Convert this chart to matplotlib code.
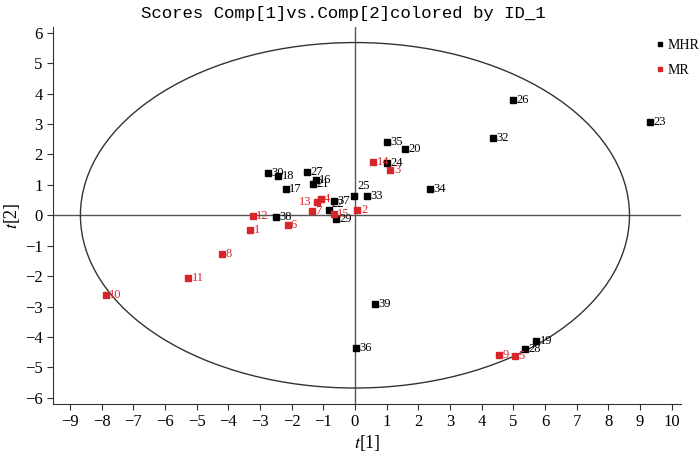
import matplotlib
matplotlib.use('Agg')
import matplotlib.pyplot as plt
from matplotlib.patches import Ellipse

# scores t[1], t[2] for each sample
mr_ids = [1, 2, 3, 4, 5, 6, 7, 8, 9, 10, 11, 12, 13, 14, 15]
mr_t1 = [-3.31, 0.08, 1.12, -1.08, 5.06, -2.13, -1.36, -4.20, 4.56, -7.87, -5.27, -3.23, -1.21, 0.58, -0.67]
mr_t2 = [-0.48, 0.18, 1.48, 0.53, -4.63, -0.32, 0.13, -1.27, -4.60, -2.63, -2.05, -0.01, 0.43, 1.74, 0.04]

mhr_ids = [16, 17, 18, 19, 20, 21, 22, 23, 24, 25, 26, 27, 28, 29, 30, 32, 33, 34, 35, 36, 37, 38, 39]
mhr_t1 = [-1.24, -2.19, -2.42, 5.73, 1.57, -1.34, -0.82, 9.32, 1.00, -0.02, 4.98, -1.51, 5.38, -0.60,
          -2.74, 4.37, 0.37, 2.37, 1.01, 0.02, -0.67, -2.50, 0.62]
mhr_t2 = [1.17, 0.86, 1.28, -4.12, 2.18, 1.03, 0.18, 3.08, 1.72, 0.64, 3.79, 1.41, -4.39, -0.13,
          1.39, 2.54, 0.64, 0.87, 2.42, -4.37, 0.46, -0.06, -2.91]

# Hotelling T2 ellipse half axes
ell_a = 8.67
ell_b = 5.68

red = '#d7262b'

plt.rcParams['font.family'] = ['Liberation Serif', 'DejaVu Serif']
plt.rcParams['mathtext.fontset'] = 'stix'

fig = plt.figure(figsize=(7, 4.61), dpi=100)
ax = fig.add_axes([0.076, 0.124, 0.897, 0.818])

ax.axhline(0, color='#555555', lw=1, zorder=1)
ax.axvline(0, color='#555555', lw=1, zorder=1)
ax.add_patch(Ellipse((0, 0), 2 * ell_a, 2 * ell_b, fill=False, edgecolor='#333333', lw=1, zorder=1))

ax.plot(mhr_t1, mhr_t2, 's', color='black', ms=4, ls='none', label='MHR', zorder=3)
ax.plot(mr_t1, mr_t2, 's', color=red, ms=4, ls='none', label='MR', zorder=3)

# label offsets in points, default is just right of the marker
special = {25: (2, 7), 13: (-13, 0), 22: (2, 4)}
for ids, xs, ys, c in [(mhr_ids, mhr_t1, mhr_t2, 'black'), (mr_ids, mr_t1, mr_t2, red)]:
    for i, x, y in zip(ids, xs, ys):
        dx, dy = special.get(i, (2.5, 0))
        ax.annotate(str(i), (x, y), xytext=(dx, dy), textcoords='offset points',
                    fontsize=9, color=c, va='center', ha='left', zorder=4)

ax.set_xlim(-9.53, 10.3)
ax.set_ylim(-6.2, 6.2)
ax.set_xticks(range(-9, 11))
ax.set_yticks(range(-6, 7))
ax.tick_params(labelsize=12, length=4, color='#333333', direction='out')
for s in ['top', 'right']:
    ax.spines[s].set_visible(False)
for s in ['left', 'bottom']:
    ax.spines[s].set_color('#333333')

ax.set_xlabel('$t$[1]', fontsize=13, labelpad=2)
ax.set_ylabel('$t$[2]', fontsize=13, labelpad=2)

fig.text(0.491, 0.97, 'Scores Comp[1]vs.Comp[2]colored by ID_1', ha='center', va='center',
         fontsize=12.5, family='Liberation Mono')

ax.legend(loc='upper left', bbox_to_anchor=(0.938, 0.915), bbox_transform=fig.transFigure,
          frameon=False, handlelength=0.5, handletextpad=0.3, markerscale=0.8,
          fontsize=10, borderaxespad=0, borderpad=0, labelspacing=0.85)

fig.savefig('out.png', dpi=100)
